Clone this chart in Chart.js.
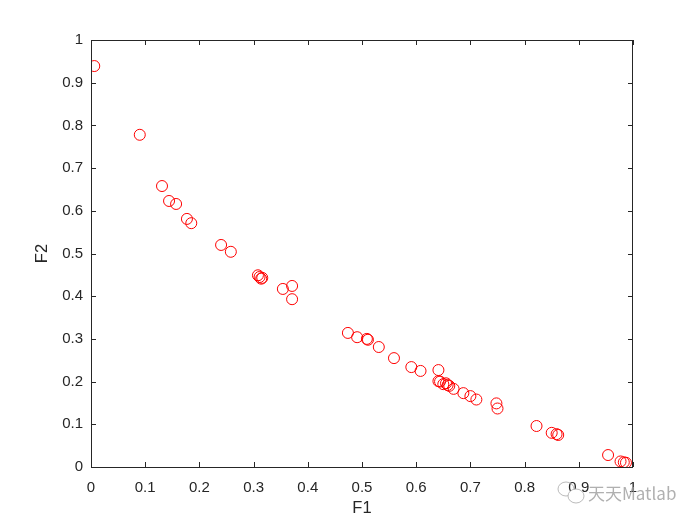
<!DOCTYPE html>
<html>
<head>
<meta charset="utf-8">
<script src="https://cdn.jsdelivr.net/npm/chart.js@4"></script>
<style>
  html, body { margin: 0; padding: 0; background: #fff; }
  #wrap { width: 700px; height: 525px; }
</style>
</head>
<body>
<div id="wrap"><canvas id="chart"></canvas></div>
<script>
// Pareto front points
const f1 = [0.006, 0.090, 0.131, 0.144, 0.157, 0.177, 0.185, 0.240, 0.258,
  0.308, 0.311, 0.314, 0.316, 0.354, 0.371, 0.371, 0.474, 0.491, 0.509, 0.511,
  0.531, 0.559, 0.591, 0.608, 0.641, 0.641, 0.644, 0.650, 0.655, 0.658, 0.661,
  0.669, 0.687, 0.700, 0.711, 0.748, 0.750, 0.822, 0.850, 0.859, 0.862, 0.954,
  0.977, 0.983, 0.987];
const f2 = [0.939, 0.778, 0.658, 0.623, 0.616, 0.581, 0.571, 0.520, 0.504,
  0.449, 0.445, 0.441, 0.443, 0.417, 0.424, 0.393, 0.314, 0.304, 0.300, 0.298,
  0.281, 0.255, 0.234, 0.225, 0.227, 0.201, 0.200, 0.194, 0.196, 0.192, 0.190,
  0.183, 0.173, 0.166, 0.158, 0.149, 0.137, 0.096, 0.080, 0.077, 0.075, 0.028,
  0.013, 0.011, 0.010];
const tickVals = [0, 0.1, 0.2, 0.3, 0.4, 0.5, 0.6, 0.7, 0.8, 0.9, 1];

const AXIS_COLOR = '#262626';
const FONT = "'Liberation Sans', Arial, sans-serif";

// caja estilo MATLAB con marcas hacia dentro
const boxPlugin = {
  id: 'matlabBox',
  afterDraw(chart) {
    const { ctx, chartArea: a, scales } = chart;
    ctx.save();
    ctx.strokeStyle = AXIS_COLOR;
    ctx.lineWidth = 1;
    ctx.strokeRect(a.left + 0.5, a.top + 0.5, a.right - a.left - 1, a.bottom - a.top);
    const len = 5;
    ctx.beginPath();
    tickVals.forEach(v => {
      const x = Math.round(scales.x.getPixelForValue(v)) + 0.5;
      ctx.moveTo(x, a.bottom); ctx.lineTo(x, a.bottom - len);
      ctx.moveTo(x, a.top); ctx.lineTo(x, a.top + len);
      const y = Math.round(scales.y.getPixelForValue(v)) + 0.5;
      ctx.moveTo(a.left, y); ctx.lineTo(a.left + len, y);
      ctx.moveTo(a.right, y); ctx.lineTo(a.right - len, y);
    });
    ctx.stroke();

    // marca de agua (icono + texto)
    ctx.strokeStyle = 'rgba(170,170,170,0.8)';
    ctx.beginPath();
    ctx.ellipse(566, 489, 8, 7, 0, 0, Math.PI * 2);
    ctx.stroke();
    ctx.fillStyle = '#fff';
    ctx.beginPath();
    ctx.ellipse(576, 496, 8, 7, 0, 0, Math.PI * 2);
    ctx.fill();
    ctx.stroke();
    ctx.font = "17px 'Noto Sans CJK SC', sans-serif";
    ctx.fillStyle = 'rgba(150,150,150,0.75)';
    ctx.textBaseline = 'middle';
    ctx.fillText('天天Matlab', 588, 494);
    ctx.restore();
  }
};

new Chart(document.getElementById('chart'), {
  type: 'scatter',
  data: {
    datasets: [{
      data: f1.map((v, i) => ({ x: v, y: f2[i] })),
      pointStyle: 'circle',
      pointRadius: 5.5,
      pointHoverRadius: 5.5,
      borderWidth: 1,
      borderColor: '#ff0000',
      backgroundColor: 'rgba(0,0,0,0)'
    }]
  },
  plugins: [boxPlugin],
  options: {
    responsive: true,
    maintainAspectRatio: false,
    animation: false,
    events: [],
    layout: { padding: { left: 0, right: 67, top: 40, bottom: 0 } },
    plugins: { legend: { display: false }, tooltip: { enabled: false } },
    scales: {
      x: {
        type: 'linear', min: 0, max: 1,
        afterFit: s => { s.height = 58; },
        afterBuildTicks: s => { s.ticks = tickVals.map(v => ({ value: v })); },
        grid: { display: false, drawTicks: false },
        border: { display: false },
        ticks: {
          color: AXIS_COLOR, padding: 12, maxRotation: 0,
          font: { family: FONT, size: 15 },
          callback: v => String(v)
        },
        title: {
          display: true, text: 'F1', color: AXIS_COLOR,
          font: { family: FONT, size: 16.5 },
          padding: { top: 0, bottom: 7 }
        }
      },
      y: {
        type: 'linear', min: 0, max: 1,
        afterFit: s => { s.width = 91; },
        afterBuildTicks: s => { s.ticks = tickVals.map(v => ({ value: v })); },
        grid: { display: false, drawTicks: false },
        border: { display: false },
        ticks: {
          color: AXIS_COLOR, padding: 8,
          font: { family: FONT, size: 15 },
          callback: v => String(v)
        },
        title: {
          display: true, text: 'F2', color: AXIS_COLOR,
          font: { family: FONT, size: 16.5 },
          padding: { top: 33, bottom: 0 }
        }
      }
    }
  }
});
</script>
</body>
</html>
